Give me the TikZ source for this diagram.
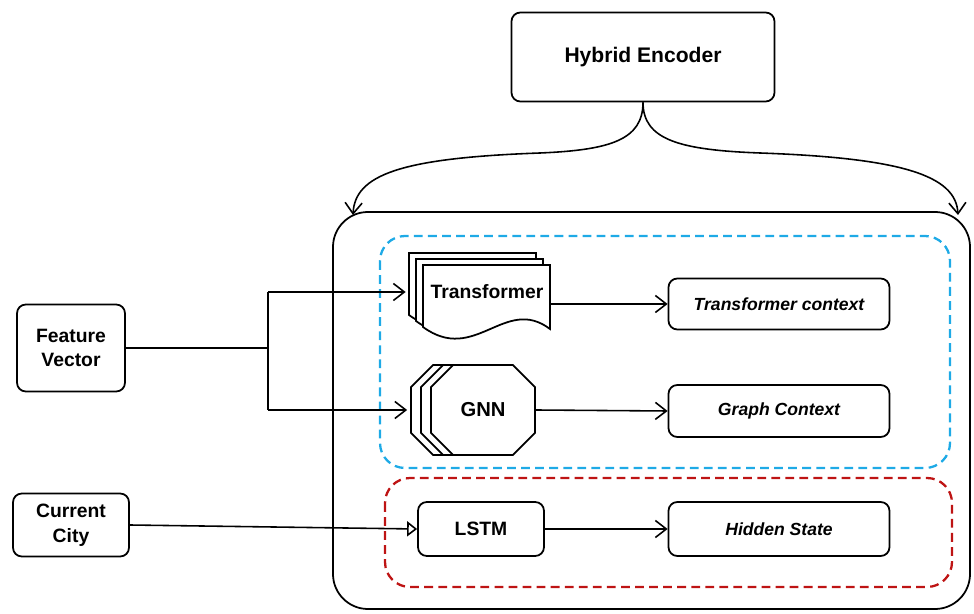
\documentclass[tikz,border=0pt]{standalone}
\usepackage{fontspec}
\setmainfont{Liberation Sans}
\usepackage{tikz}
\usetikzlibrary{arrows.meta, positioning, shapes.misc, shadows}

\definecolor{encblue}{RGB}{30,170,230}
\definecolor{encred}{RGB}{190,20,20}

\begin{document}
\begin{tikzpicture}[
        x=0.02cm, y=-0.02cm,
        every node/.style={font=\bfseries\fontsize{11}{14}\selectfont, align=center},
        box/.style={draw, line width=1pt, rounded corners=5pt},
        ctx/.style={box, minimum width=4.42cm, font=\bfseries\itshape\fontsize{10}{12}\selectfont},
        arr/.style={-{Straight Barb[length=2.2mm, width=3.4mm]}, line width=0.9pt},
        group/.style={line width=1.3pt, dash pattern=on 5pt off 3pt, rounded corners=0.5cm}
    ]
    \useasboundingbox (0,0) rectangle (974,614);

    % Encoder block and groups
    \node[box, minimum width=5.26cm, minimum height=1.78cm,
          font=\bfseries\fontsize{12}{14}\selectfont] (enc) at (643,57) {Hybrid Encoder};
    \draw[line width=1pt, rounded corners=0.7cm] (333,212) rectangle (970,609);
    \draw[group, encblue] (380,236) rectangle (950,468);
    \draw[group, encred] (385,478) rectangle (952,587);

    % Inputs
    \node[box, minimum width=2.16cm, minimum height=1.74cm] (fv) at (71,348) {Feature\\Vector};
    \node[box, minimum width=2.32cm, minimum height=1.26cm] (cc) at (71,525) {Current\\City};

    % Transformer (stacked documents)
    \foreach \d in {2,1,0}
        \draw[line width=1pt, fill=white, shift={(-7*\d,-6*\d)}]
            (423,265) -- (550,265) -- (550,329)
            .. controls (505,295) and (475,365) .. (423,327) -- cycle;
    \node[inner sep=0pt, minimum width=2.88cm, minimum height=1.5cm] (trans) at (478,292)
        {\hspace*{0.36cm}Transformer};

    % GNN, LSTM and outputs
    \node[chamfered rectangle, chamfered rectangle xsep=0.3cm, chamfered rectangle ysep=0.3cm,
          draw, line width=1pt, fill=white, inner sep=0pt,
          minimum width=2.08cm, minimum height=1.8cm, font=\bfseries\fontsize{11.5}{14}\selectfont,
          double copy shadow={shadow xshift=-0.2cm, shadow yshift=0pt, draw, fill=white}]
          (gnn) at (483,410) {GNN};
    \node[box, minimum width=2.52cm, minimum height=1.08cm] (lstm) at (481,529) {LSTM};
    \node[ctx, minimum height=1.02cm] (tctx) at (779,304) {Transformer context};
    \node[ctx, minimum height=1.04cm] (gctx) at (779,411) {Graph Context};
    \node[ctx, minimum height=1.08cm] (hid) at (779,529) {Hidden State};

    % Edges
    \coordinate (encL) at (353,215);
    \coordinate (encR) at (958,215);
    \coordinate (split) at (268,348);
    \draw[arr] (enc.south) .. controls (643,140) and (610,150) .. (540,153)
        .. controls (400,158) and (355,175) .. (encL);
    \draw[arr] (enc.south) .. controls (643,140) and (680,150) .. (760,153)
        .. controls (900,158) and (956,175) .. (encR);
    \draw[line width=0.9pt] (fv.east) -- (split);
    \draw[line width=0.9pt] (split |- trans.west) -- (split |- gnn.west);
    \draw[arr] (split |- trans.west) -- (trans.west);
    \draw[arr] (split |- gnn.west) -- ([xshift=-0.46cm]gnn.west);
    \draw[-{Triangle[open, length=2mm, width=3mm]}, line width=0.9pt] (cc.east) -- (lstm.west);
    \draw[arr] (trans.east |- tctx.west) -- (tctx.west);
    \draw[arr] (gnn.east) -- (gctx.west);
    \draw[arr] (lstm) -- (hid);

\end{tikzpicture}
\end{document}
